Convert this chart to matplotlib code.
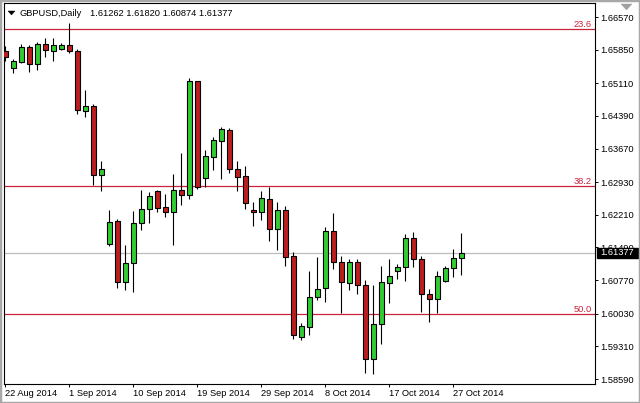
import matplotlib
matplotlib.use('Agg')
import matplotlib.pyplot as plt
import matplotlib.transforms as mtransforms
from matplotlib.patches import Polygon, Rectangle
import numpy as np
import pandas as pd

plt.rcParams['font.family'] = ['Liberation Sans', 'DejaVu Sans']

# ---------------- data ----------------
symbol = "GBPUSD,Daily"
opens = [1.65821, 1.65446, 1.65578, 1.65909, 1.65534, 1.65975, 1.65832, 1.65876, 1.65953, 1.65821,
         1.64509, 1.64608, 1.63077, 1.61556, 1.62074, 1.60740, 1.61142, 1.62019, 1.62338, 1.62735,
         1.62382, 1.62283, 1.62757, 1.62636, 1.65159, 1.63015, 1.63491, 1.63844, 1.64079, 1.63220,
         1.63059, 1.62310, 1.62266, 1.62552, 1.61891, 1.62316, 1.61302, 1.59506, 1.59744, 1.60388,
         1.60591, 1.61847, 1.61164, 1.60701, 1.61164, 1.60657, 1.59039, 1.59793, 1.60701, 1.60965,
         1.61053, 1.61693, 1.61230, 1.60458, 1.60348, 1.60751, 1.61031, 1.61262]
highs = [1.65931, 1.65644, 1.65975, 1.65953, 1.66030, 1.66118, 1.66118, 1.65997, 1.66449, 1.65876,
         1.64961, 1.64653, 1.63396, 1.62316, 1.62118, 1.61545, 1.62294, 1.62757, 1.62724, 1.62757,
         1.62669, 1.63110, 1.63566, 1.65215, 1.65170, 1.63639, 1.63932, 1.64152, 1.64117, 1.63396,
         1.63286, 1.62493, 1.62735, 1.62830, 1.62486, 1.62404, 1.61391, 1.59832, 1.60979, 1.61274,
         1.61942, 1.62250, 1.61302, 1.61236, 1.61236, 1.60774, 1.60663, 1.61082, 1.61230, 1.61120,
         1.61787, 1.61831, 1.61302, 1.60575, 1.60979, 1.61082, 1.61450, 1.61820]
lows = [1.65600, 1.65336, 1.65556, 1.65358, 1.65413, 1.65688, 1.65611, 1.65843, 1.65766, 1.64432,
        1.64377, 1.62867, 1.62735, 1.61523, 1.60608, 1.60553, 1.60498, 1.61876, 1.62030, 1.62283,
        1.62173, 1.61545, 1.62426, 1.62559, 1.62786, 1.62830, 1.63198, 1.63006, 1.63125, 1.62742,
        1.62338, 1.61970, 1.62096, 1.61633, 1.61435, 1.61082, 1.59473, 1.59451, 1.59561, 1.60333,
        1.60295, 1.61009, 1.60057, 1.60553, 1.60472, 1.58724, 1.58702, 1.59370, 1.60260, 1.60796,
        1.60758, 1.61053, 1.60075, 1.59841, 1.60053, 1.60736, 1.60846, 1.60874]
closes = [1.65688, 1.65600, 1.65909, 1.65534, 1.65975, 1.65843, 1.65953, 1.65953, 1.65810, 1.64520,
          1.64608, 1.63077, 1.63220, 1.62052, 1.60740, 1.61159, 1.62023, 1.62338, 1.62625, 1.62371,
          1.62283, 1.62757, 1.62640, 1.65159, 1.62817, 1.63500, 1.63859, 1.64095, 1.63213, 1.63037,
          1.62464, 1.62266, 1.62574, 1.61891, 1.62310, 1.61287, 1.59555, 1.59760, 1.60399, 1.60569,
          1.61847, 1.61164, 1.60723, 1.61164, 1.60657, 1.59039, 1.59797, 1.60723, 1.60862, 1.61053,
          1.61693, 1.61230, 1.60458, 1.60348, 1.60855, 1.61031, 1.61252, 1.61377]

fib_labels = ["23.6", "38.2", "50.0"]
fib_levels = [1.66300, 1.62840, 1.60020]

ytick_values = [1.66570, 1.65850, 1.65110, 1.64390, 1.63670, 1.62930, 1.62210,
                1.61490, 1.60770, 1.60030, 1.59310, 1.58590]
xtick_labels = ["22 Aug 2014", "1 Sep 2014", "10 Sep 2014", "19 Sep 2014",
                "29 Sep 2014", "8 Oct 2014", "17 Oct 2014", "27 Oct 2014"]

# daily bars incl. Sunday sessions (no Saturdays)
dates = [d for d in pd.date_range('2014-08-22', '2014-10-28') if d.dayofweek != 5]

opens = np.array(opens); highs = np.array(highs)
lows = np.array(lows); closes = np.array(closes)

# ---------------- style ----------------
GREEN = '#32CD32'
RED = '#BC1E1E'
FIB = '#C8243A'
FS = 6.7
W, H = 640, 403

fig = plt.figure(figsize=(W / 100, H / 100), dpi=100)
fig.patch.set_facecolor('white')
ax = fig.add_axes([4 / W, 1 - 384 / H, (595 - 4) / W, (384 - 3) / H])
ax.set_facecolor('white')

x = np.arange(len(opens))
up = closes >= opens

ax.vlines(x, lows, highs, color='black', lw=0.8, zorder=2)
ax.bar(x, np.abs(closes - opens), bottom=np.minimum(opens, closes), width=0.6,
       color=np.where(up, GREEN, RED), edgecolor='black', linewidth=0.8, zorder=3)

for lab, lev in zip(fib_labels, fib_levels):
    ax.axhline(lev, color=FIB, lw=0.9, zorder=1)
    ax.annotate(lab, xy=(1, lev), xycoords=('axes fraction', 'data'),
                xytext=(-3, 2), textcoords='offset pixels', ha='right', va='baseline',
                fontsize=FS, color=FIB)

ax.axhline(closes[-1], color='#BDBDBD', lw=0.9, zorder=1)

# limits: pixel mapping
ax.set_xlim(-0.17, 73.7)
ax.set_ylim(1.58481, 1.66879)

ax.yaxis.tick_right()
ax.set_yticks(ytick_values)
ax.set_yticklabels([f"{v:.5f}" for v in ytick_values])
ax.tick_params(axis='y', direction='out', length=2.2, width=0.7, pad=1.5,
               labelsize=FS, colors='black')

date_ts = [pd.Timestamp(d) for d in dates]
xpos = [date_ts.index(pd.to_datetime(s, format='%d %b %Y')) for s in xtick_labels]
ax.set_xticks(xpos)
ax.set_xticklabels(xtick_labels, ha='left')
ax.tick_params(axis='x', direction='out', length=2.5, width=0.7, pad=1.2,
               labelsize=FS, colors='black')

for sp in ax.spines.values():
    sp.set_color('black')
    sp.set_linewidth(0.8)

# current price box
blend = mtransforms.blended_transform_factory(ax.transAxes, ax.transData)
box_h = 10 * (1.66879 - 1.58481) / 381
ax.add_patch(Rectangle(((597 - 4) / 591, closes[-1] - box_h / 2), 41 / 591, box_h,
                       transform=blend, facecolor='black', edgecolor='black',
                       clip_on=False, zorder=10))
ax.annotate(f"{closes[-1]:.5f}", xy=(1, closes[-1]), xycoords=('axes fraction', 'data'),
            xytext=(5, 0), textcoords='offset pixels', ha='left', va='center',
            color='white', fontsize=FS, zorder=11, annotation_clip=False)

# header
fig.text(20 / W, 1 - 13.5 / H, symbol, ha='left', va='center', fontsize=FS)
fig.text(90 / W, 1 - 13.5 / H,
         " ".join(f"{v:.5f}" for v in (opens[-1], highs[-1], lows[-1], closes[-1])),
         ha='left', va='center', fontsize=FS)
fig.patches.append(Polygon([(8 / W, 1 - 11 / H), (15 / W, 1 - 11 / H), (11.5 / W, 1 - 15 / H)],
                           closed=True, transform=fig.transFigure, facecolor='black',
                           edgecolor='black', lw=0.3))
# chart shift marker
fig.patches.append(Polygon([(621 / W, 1 - 4 / H), (632 / W, 1 - 4 / H), (626.5 / W, 1 - 10 / H)],
                           closed=True, transform=fig.transFigure, facecolor='#A0A0A0',
                           edgecolor='#A0A0A0', lw=0.3))
# window border
fig.patches.append(Rectangle((0, 0), 1, 1, transform=fig.transFigure, fill=False,
                             edgecolor='#A8A8A8', lw=2.5))

fig.savefig('out.png', dpi=100)
